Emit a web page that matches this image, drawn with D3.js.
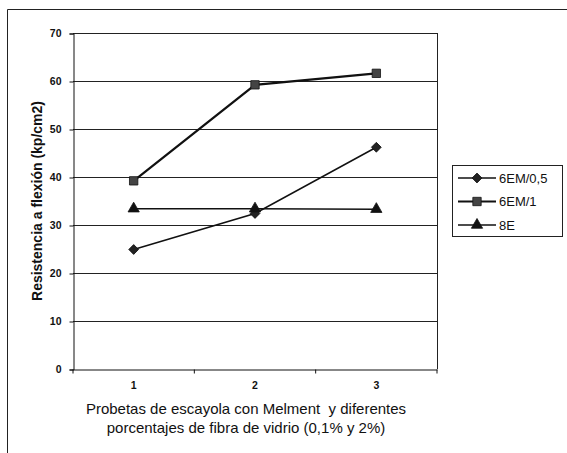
<!DOCTYPE html>
<html>
<head>
<meta charset="utf-8">
<script src="https://cdn.jsdelivr.net/npm/d3@7"></script>
<style>
  body { margin: 0; background: #fff; }
  svg { display: block; font-family: "Liberation Sans", Arial, sans-serif; }
  .axis path, .axis line { stroke: #111; }
  .axis text { fill: #111; font-size: 10.5px; }
</style>
</head>
<body>
<svg id="chart" width="567" height="453"></svg>
<script>
// data
const categories = ["1", "2", "3"];
const yTicks = [0, 10, 20, 30, 40, 50, 60, 70];
const seriesNames = ["6EM/0,5", "6EM/1", "8E"];
const em05 = [24.9, 32.4, 46.2];
const em1 = [39.2, 59.2, 61.6];
const e8 = [33.4, 33.4, 33.3];
const xTitle = ["Probetas de escayola con Melment  y diferentes", "porcentajes de fibra de vidrio (0,1% y 2%)"];
const yTitle = "Resistencia a flexión (kp/cm2)";

const series = [
  { name: seriesNames[0], values: em05, symbol: d3.symbolSquare, rot: 45, size: 48, width: 1.5, fill: "#222" },
  { name: seriesNames[1], values: em1, symbol: d3.symbolSquare, rot: 0, size: 70, width: 2.2, fill: "#444" },
  { name: seriesNames[2], values: e8, symbol: d3.symbolTriangle, rot: 0, size: 55, width: 1.5, fill: "#111" }
];

const svg = d3.select("#chart");

// outer frame (only left and top edges show in the scan)
svg.append("path")
  .attr("d", "M7.5,453 V9.5 H567")
  .attr("fill", "none").attr("stroke", "#222").attr("stroke-width", 1);

const x = d3.scaleBand().domain(categories).range([73, 437]).padding(0);
const y = d3.scaleLinear().domain([0, 70]).range([369, 33]);

// gridlines
svg.append("g").selectAll("line")
  .data(yTicks.filter(d => d > 0))
  .join("line")
  .attr("x1", 73).attr("x2", 437)
  .attr("y1", d => Math.round(y(d)) + 0.5).attr("y2", d => Math.round(y(d)) + 0.5)
  .attr("stroke", "#222").attr("stroke-width", 1);

// right edge of plot area
svg.append("line")
  .attr("x1", 437.5).attr("x2", 437.5).attr("y1", y(70)).attr("y2", y(0))
  .attr("stroke", "#222");

// y axis
const yAxis = svg.append("g").attr("class", "axis")
  .attr("transform", "translate(73.5,0.5)")
  .call(d3.axisLeft(y).tickValues(yTicks).tickSize(4).tickPadding(8));
yAxis.selectAll("text").style("font-weight", "bold");

// x axis: labels at band centres, ticks at band edges
const xAxis = svg.append("g").attr("class", "axis")
  .attr("transform", "translate(0," + (y(0) + 0.5) + ")")
  .call(d3.axisBottom(x).tickSize(0).tickPadding(12));
xAxis.selectAll("text").style("font-weight", "bold");
xAxis.selectAll(".edge")
  .data(d3.range(categories.length + 1))
  .join("line")
  .attr("class", "edge")
  .attr("x1", i => x.range()[0] + i * x.step()).attr("x2", i => x.range()[0] + i * x.step())
  .attr("y1", 0).attr("y2", 4);

// series lines and markers
const line = d3.line()
  .x((d, i) => x(categories[i]) + x.bandwidth() / 2)
  .y(d => y(d));

series.forEach(s => {
  svg.append("path")
    .attr("d", line(s.values))
    .attr("fill", "none").attr("stroke", "#111").attr("stroke-width", s.width);
  svg.append("g").selectAll("path")
    .data(s.values)
    .join("path")
    .attr("transform", (d, i) => "translate(" + (x(categories[i]) + x.bandwidth() / 2) + "," + y(d) + ") rotate(" + s.rot + ")")
    .attr("d", d3.symbol().type(s.symbol).size(s.size))
    .attr("fill", s.fill).attr("stroke", "#111").attr("stroke-width", 0.8);
});

// axis titles
svg.append("text")
  .attr("transform", "translate(42," + (y(35)) + ") rotate(-90)")
  .attr("text-anchor", "middle")
  .style("font-size", "14px").style("font-weight", "bold").attr("fill", "#111")
  .text(yTitle);

svg.append("g").selectAll("text")
  .data(xTitle)
  .join("text")
  .attr("x", 246).attr("y", (d, i) => 414 + i * 19)
  .attr("text-anchor", "middle")
  .attr("xml:space", "preserve")
  .style("white-space", "pre")
  .style("font-size", "15px").attr("fill", "#111")
  .text(d => d);

// legend
const legend = svg.append("g");
legend.append("rect")
  .attr("x", 452.5).attr("y", 165.5).attr("width", 110).attr("height", 71)
  .attr("fill", "#fff").attr("stroke", "#222");
const item = legend.selectAll("g.item")
  .data(series)
  .join("g").attr("class", "item")
  .attr("transform", (d, i) => "translate(0," + (178 + i * 23.5) + ")");
item.append("line")
  .attr("x1", 458).attr("x2", 496).attr("y1", 0).attr("y2", 0)
  .attr("stroke", "#111").attr("stroke-width", d => d.width);
item.append("path")
  .attr("transform", d => "translate(477,0) rotate(" + d.rot + ")")
  .attr("d", d => d3.symbol().type(d.symbol).size(d.size)())
  .attr("fill", d => d.fill).attr("stroke", "#111").attr("stroke-width", 0.8);
item.append("text")
  .attr("x", 499).attr("y", 0).attr("dy", "0.35em")
  .style("font-size", "13px").attr("fill", "#111")
  .text(d => d.name);
</script>
</body>
</html>
